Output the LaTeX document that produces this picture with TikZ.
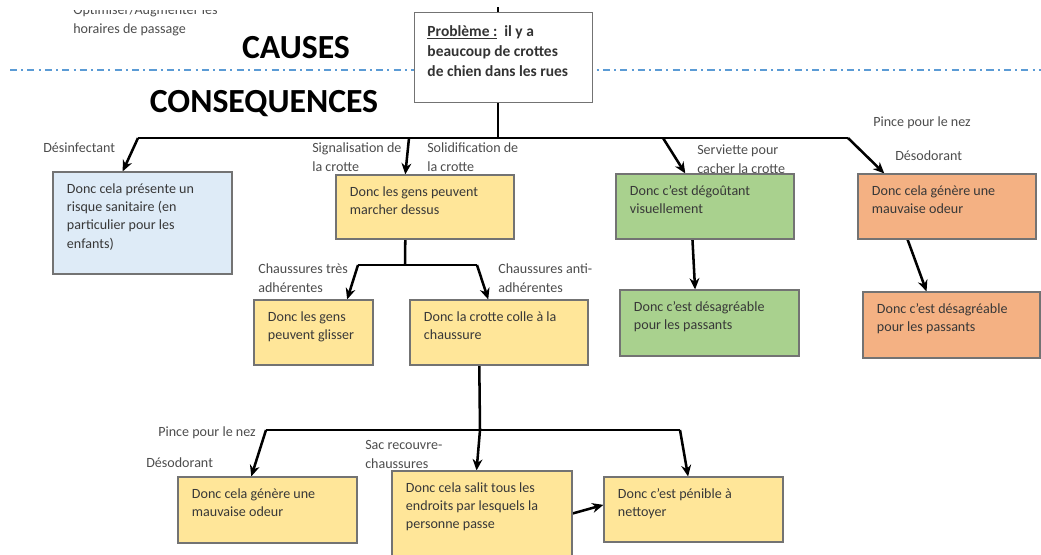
\documentclass[tikz,border=0pt]{standalone}
\usepackage{fontspec}
\setmainfont{Carlito}
\usepackage[svgnames]{xcolor}
\usepackage{tikz}
\usetikzlibrary{calc,arrows.meta}
\pgfdeclarelayer{edgelayer}
\pgfdeclarelayer{nodelayer}
\pgfsetlayers{edgelayer,nodelayer,main}
\definecolor{lblue}{RGB}{222,235,247}
\definecolor{lyellow}{RGB}{255,230,153}
\definecolor{lgreen}{RGB}{169,209,142}
\definecolor{lorange}{RGB}{244,177,131}
\definecolor{dashblue}{RGB}{91,155,213}
\tikzstyle{none}=[inner sep=0pt]
\tikzstyle{conseq}=[rectangle,draw=black!55,line width=0.8pt,text=black!78,inner xsep=0.35cm,inner ysep=0.2cm,font=\fontsize{10}{13}\selectfont]
\tikzstyle{bluebox}=[style=conseq,fill=lblue]
\tikzstyle{yellowbox}=[style=conseq,fill=lyellow]
\tikzstyle{greenbox}=[style=conseq,fill=lgreen]
\tikzstyle{orangebox}=[style=conseq,fill=lorange]
\tikzstyle{problem}=[rectangle,draw=black!55,line width=0.8pt,fill=white,text=black!80,inner xsep=0.33cm,inner ysep=0.22cm,font=\fontsize{11}{14.5}\selectfont\bfseries]
\tikzstyle{lbl}=[none,anchor=west,align=left,text=black!70,font=\fontsize{10}{13.5}\selectfont]
\tikzstyle{title}=[none,text=black,font=\fontsize{24}{28}\selectfont\bfseries]
\tikzstyle{simple}=[-,line width=1.8pt]
\tikzstyle{inarrow}=[-{Stealth[length=8pt,width=7pt]},line width=1.8pt]
\tikzstyle{dashdot}=[-,draw=dashblue,line width=1.4pt,dash pattern=on 5pt off 3pt on 1.4pt off 3pt]
\newcommand{\boxtext}[3]{\parbox[c][#2][t]{#1}{\vspace*{0.09cm}\raggedright #3}}

\begin{document}
\begin{tikzpicture}[x=0.025cm,y=-0.025cm]
	\useasboundingbox (0,0) rectangle (1041,554);
	\begin{pgfonlayer}{nodelayer}
		\node [style=problem] (pb) at (503.5,57.5) {\boxtext{3.8cm}{1.83cm}{\vspace*{0.02cm}\underline{Problème :}\ \ il y a\\beaucoup de crottes\\de chien dans les rues}};
		\node [style=title] (causes) at (296,48) {CAUSES};
		\node [style=title] (conseq) at (264,104) {CONSEQUENCES};
		\begin{scope}
			\clip (60,10) rectangle (260,45);
			\node [style=lbl] (optim) at (73,20) {Optimiser/Augmenter les\\horaires de passage};
		\end{scope}

		\node [style=bluebox] (risk) at (142.5,223) {\boxtext{3.775cm}{2.15cm}{Donc cela présente un\\risque sanitaire (en\\particulier pour les\\enfants)}};
		\node [style=yellowbox] (walk) at (425,207) {\boxtext{3.75cm}{1.2cm}{Donc les gens peuvent\\marcher dessus}};
		\node [style=greenbox] (sight) at (705,206.5) {\boxtext{3.75cm}{1.225cm}{Donc c’est dégoûtant\\visuellement}};
		\node [style=orangebox] (odour) at (947,206.5) {\boxtext{3.75cm}{1.225cm}{Donc cela génère une\\mauvaise odeur}};

		\node [style=yellowbox] (slip) at (313.5,332.5) {\boxtext{2.275cm}{1.225cm}{Donc les gens\\peuvent glisser}};
		\node [style=yellowbox] (stick) at (499,332.5) {\boxtext{3.75cm}{1.225cm}{Donc la crotte colle à la\\chaussure}};
		\node [style=greenbox] (sight2) at (709.5,323) {\boxtext{3.775cm}{1.25cm}{Donc c’est désagréable\\pour les passants}};
		\node [style=orangebox] (odour2) at (951.5,325) {\boxtext{3.725cm}{1.25cm}{Donc c’est désagréable\\pour les passants}};

		\node [style=yellowbox] (odour3) at (267.5,510) {\boxtext{3.775cm}{1.25cm}{Donc cela génère une\\mauvaise odeur}};
		\node [style=yellowbox] (dirty) at (482,520.5) {\boxtext{3.8cm}{2.075cm}{Donc cela salit tous les\\endroits par lesquels la\\personne passe}};
		\node [style=yellowbox] (clean) at (693.5,509.5) {\boxtext{3.775cm}{1.225cm}{Donc c’est pénible à\\nettoyer}};

		\node [style=lbl] (desinf) at (43,148) {Désinfectant};
		\node [style=lbl] (signal) at (312,157.5) {Signalisation de\\la crotte};
		\node [style=lbl] (solid) at (427,157.5) {Solidification de\\la crotte};
		\node [style=lbl] (towel) at (697,159) {Serviette pour\\cacher la crotte};
		\node [style=lbl] (pince) at (873,123) {Pince pour le nez};
		\node [style=lbl] (desodo) at (895,156) {Désodorant};
		\node [style=lbl] (grip) at (258,278.5) {Chaussures très\\adhérentes};
		\node [style=lbl] (antigrip) at (498,278.5) {Chaussures anti-\\adhérentes};
		\node [style=lbl] (pince2) at (158,433) {Pince pour le nez};
		\node [style=lbl] (desodo2) at (146,463) {Désodorant};
		\node [style=lbl] (overshoe) at (365,454) {Sac recouvre-\\chaussures};

		\coordinate (top) at (498,7);
		\coordinate (j1) at (498,138);
		\coordinate (cL) at (138,138);
		\coordinate (j0) at (409,138);
		\coordinate (cG) at (663,138);
		\coordinate (cR) at (848,138);
		\coordinate (j2) at (405,265);
		\coordinate (cA) at (358,265);
		\coordinate (cB) at (477,265);
		\coordinate (j3) at (480,430);
		\coordinate (cC) at (266,430);
		\coordinate (cD) at (680,430);
	\end{pgfonlayer}
	\begin{pgfonlayer}{edgelayer}
		\draw [style=dashdot] (10,70) -- (1041,70);
		% first level
		\draw [style=simple] (top) to (pb.north -| top);
		\draw [style=simple] (pb.south -| j1) to (j1);
		\draw [style=simple] (cL) to (cR);
		\draw [style=inarrow] (cL) to ($(risk.north west)!0.39!(risk.north east)$);
		\draw [style=inarrow] (j0) to ($(walk.north west)!0.39!(walk.north east)$);
		\draw [style=inarrow] (cG) to ($(sight.north west)!0.39!(sight.north east)$);
		\draw [style=inarrow] (cR) to ($(odour.north west)!0.15!(odour.north east)$);
		% second level
		\draw [style=simple] ($(walk.south west)!0.39!(walk.south east)$) to (j2);
		\draw [style=simple] (cA) to (cB);
		\draw [style=inarrow] (cA) to ($(slip.north west)!0.78!(slip.north east)$);
		\draw [style=inarrow] (cB) to ($(stick.north west)!0.44!(stick.north east)$);
		\draw [style=inarrow] ($(sight.south west)!0.43!(sight.south east)$) to ($(sight2.north west)!0.42!(sight2.north east)$);
		\draw [style=inarrow] ($(odour.south west)!0.28!(odour.south east)$) to ($(odour2.north west)!0.36!(odour2.north east)$);
		% third level
		\draw [style=simple] ($(stick.south west)!0.39!(stick.south east)$) to (j3);
		\draw [style=simple] (cC) to (cD);
		\draw [style=inarrow] (cC) to ($(odour3.north west)!0.41!(odour3.north east)$);
		\draw [style=inarrow] (j3) to ($(dirty.north west)!0.47!(dirty.north east)$);
		\draw [style=inarrow] (cD) to ($(clean.north west)!0.47!(clean.north east)$);
		\draw [style=inarrow] ($(dirty.north east)!0.43!(dirty.south east)$) to ($(clean.north west)!0.43!(clean.south west)$);
	\end{pgfonlayer}
\end{tikzpicture}
\end{document}
